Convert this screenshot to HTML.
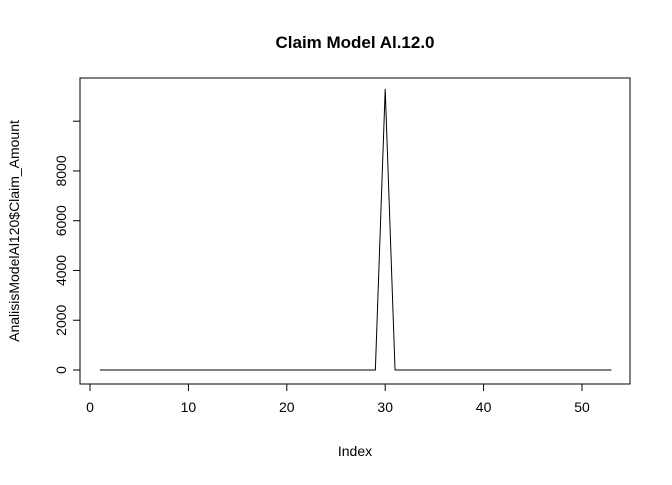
<!DOCTYPE html>
<html><head><meta charset="utf-8"><style>
body{margin:0;background:#fff;}
svg text{font-family:"Liberation Sans",Arial,sans-serif;fill:#000;}
</style></head><body>
<svg width="672" height="480" xmlns="http://www.w3.org/2000/svg">
<text x="355" y="48" text-anchor="middle" font-size="17" font-weight="bold">Claim Model Al.12.0</text>
<rect x="80" y="78" width="550" height="306" fill="none" stroke="#000"/>
<g id="xaxis"></g>
<g id="yaxis"></g>
<path id="line" fill="none" stroke="#000" stroke-width="1"/>
<text x="355" y="456" text-anchor="middle" font-size="14">Index</text>
<text transform="translate(19,231) rotate(-90)" text-anchor="middle" font-size="14">AnalisisModelAl120$Claim_Amount</text>
</svg>
<script>
const values=[0,0,0,0,0,0,0,0,0,0,0,0,0,0,0,0,0,0,0,0,0,0,0,0,0,0,0,0,0,11300,0,0,0,0,0,0,0,0,0,0,0,0,0,0,0,0,0,0,0,0,0,0,0];
const xTicks=[0,10,20,30,40,50];
const yTicks=[0,2000,4000,6000,8000,10000];
const yLabels=['0','2000','4000','6000','8000',''];
const ns="http://www.w3.org/2000/svg";
const sx=v=>90+v*9.84;
const sy=v=>370-v*0.02488;
function el(t,a,p){const e=document.createElementNS(ns,t);for(const k in a)e.setAttribute(k,a[k]);p.appendChild(e);return e;}
const xa=document.getElementById('xaxis'),ya=document.getElementById('yaxis');
el('line',{x1:sx(0),x2:sx(50),y1:384,y2:384,stroke:'#000'},xa);
xTicks.forEach(t=>{
 const l=el('line',{x1:sx(t),x2:sx(t),y1:384,y2:391,stroke:'#000'},xa);
 
 
 const tx=el('text',{x:sx(t),y:412,'text-anchor':'middle','font-size':14},xa);tx.textContent=t;
 
 
});
el('line',{x1:80,x2:80,y1:sy(0),y2:sy(10000),stroke:'#000'},ya);
yTicks.forEach((t,i)=>{
 const l=el('line',{x1:73,x2:80,y1:sy(t),y2:sy(t),stroke:'#000'},ya);
 
 
 const tx=el('text',{transform:`translate(66,${sy(t)}) rotate(-90)`,'text-anchor':'middle','font-size':14},ya);tx.textContent=yLabels[i];
 
 
});
document.getElementById('line').setAttribute('d',values.map((v,i)=>(i?'L':'M')+sx(i+1)+','+sy(v)).join(''));
</script>
</body></html>
